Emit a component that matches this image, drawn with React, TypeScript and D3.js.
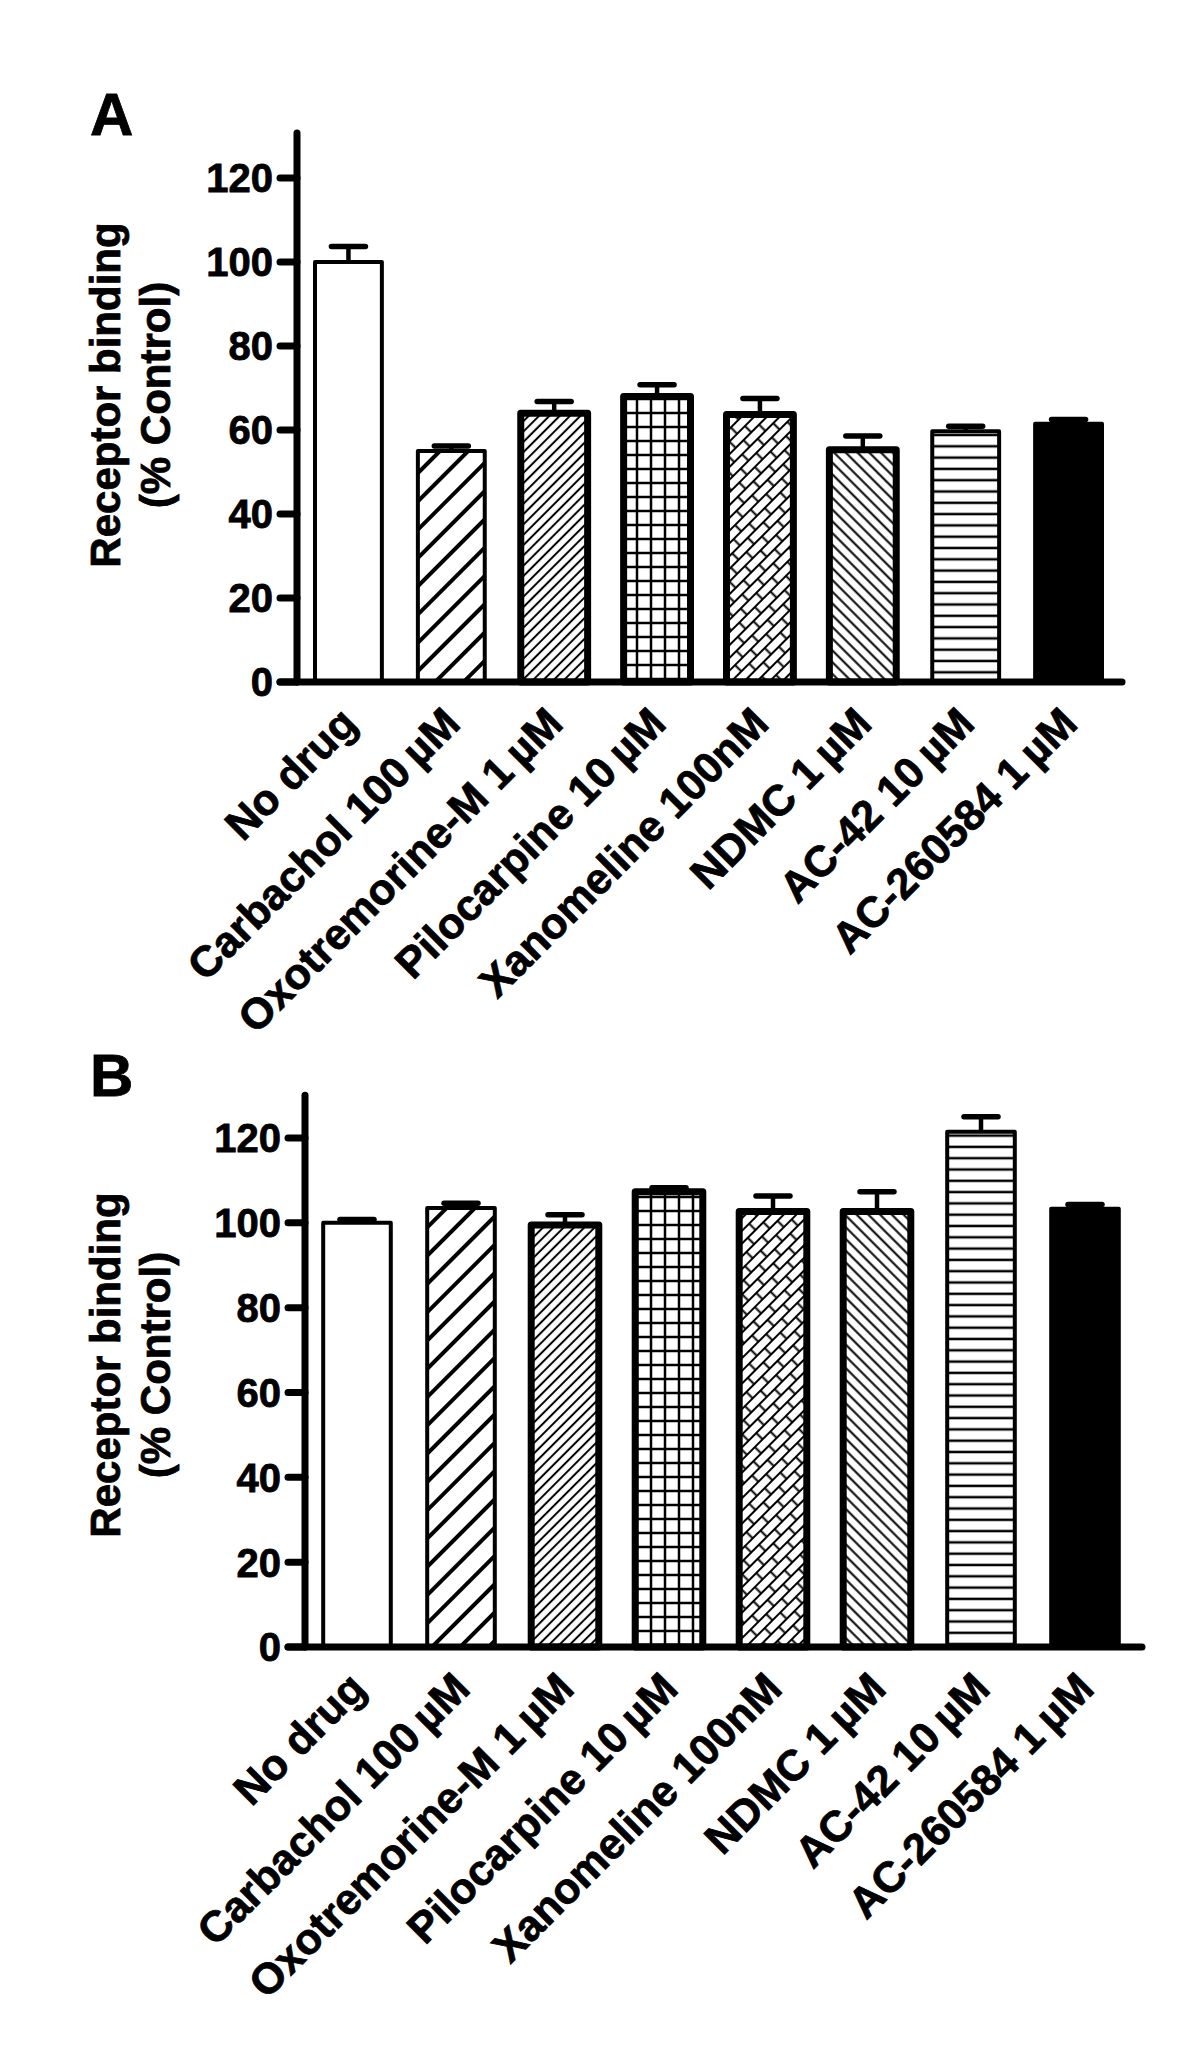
import React from "react";
import * as d3 from "d3";

const categories = [
  "No drug",
  "Carbachol 100\u2009µM",
  "Oxotremorine-M 1\u2009µM",
  "Pilocarpine 10\u2009µM",
  "Xanomeline 100nM",
  "NDMC 1\u2009µM",
  "AC-42 10\u2009µM",
  "AC-260584 1\u2009µM",
];
const valuesA = [100, 55, 64, 68, 63.7, 55.3, 59.7, 61.5];
const errorsA = [3.7, 1.2, 2.8, 2.8, 3.8, 3.3, 1.2, 1.0];
const valuesB = [100, 103.5, 99.5, 107.3, 102.7, 102.7, 121.5, 103.3];
const errorsB = [0.8, 1.1, 2.4, 1.0, 3.6, 4.6, 3.5, 1.0];
const yTicks = [0, 20, 40, 60, 80, 100, 120];
const fills = ["#fff", "url(#pWide)", "url(#pFineUp)", "url(#pGrid)", "url(#pBrick)", "url(#pFineDown)", "url(#pHoriz)", "#000"];
const thick = [false, false, true, true, true, true, false, false];

const FONT = "'Liberation Sans', Arial, Helvetica, sans-serif";

type PanelProps = {
  letter: string;
  values: number[];
  errors: number[];
  x0: number;
  x1: number;
  xAxisEnd: number;
  yZero: number;
  y120: number;
  axisTopVal: number;
  letterY: number;
  titleCenter: number;
};

function Panel(p: PanelProps) {
  const x = d3.scaleBand<string>().domain(categories).range([p.x0, p.x1]).paddingInner(0.35).paddingOuter(0.175);
  const y = d3.scaleLinear().domain([0, 120]).range([p.yZero, p.y120]);
  const tickLen = 17;
  const bw = x.bandwidth();
  return (
    <g>
      <text x={90} y={p.letterY} fontFamily={FONT} fontWeight="bold" fontSize={60} stroke="#000" strokeWidth={0.8}>{p.letter}</text>
      <g transform={`translate(0,${p.titleCenter}) rotate(-90)`} fontFamily={FONT} fontWeight="bold" fontSize={42} textAnchor="middle" stroke="#000" strokeWidth={0.8}>
        <text x={0} y={120}>Receptor binding</text>
        <text x={0} y={170}>(% Control)</text>
      </g>
      {categories.map((c, i) => {
        const v = p.values[i];
        const e = p.errors[i];
        const cx = (x(c) as number) + bw / 2;
        return (
          <g key={c}>
            <line x1={cx} x2={cx} y1={y(v)} y2={y(v + e)} stroke="#000" strokeWidth={4.5} />
            <line x1={cx - 17} x2={cx + 17} y1={y(v + e)} y2={y(v + e)} stroke="#000" strokeWidth={5.5} strokeLinecap="round" />
            <rect
              x={x(c)}
              y={y(v)}
              width={bw}
              height={y(0) - y(v)}
              fill={fills[i]}
              stroke="#000"
              strokeWidth={thick[i] ? 7 : 4}
              strokeLinejoin="round"
            />
          </g>
        );
      })}
      <line x1={p.x0} x2={p.x0} y1={y(p.axisTopVal)} y2={y(0)} stroke="#000" strokeWidth={7} strokeLinecap="round" />
      <line x1={p.x0 - tickLen} x2={p.xAxisEnd} y1={y(0)} y2={y(0)} stroke="#000" strokeWidth={7} strokeLinecap="round" />
      {yTicks.map((t) => (
        <g key={t}>
          <line x1={p.x0 - tickLen} x2={p.x0} y1={y(t)} y2={y(t)} stroke="#000" strokeWidth={7} strokeLinecap="round" />
          <text x={p.x0 - tickLen - 7} y={y(t)} dy="0.36em" textAnchor="end" fontFamily={FONT} fontWeight="bold" fontSize={40} stroke="#000" strokeWidth={0.8}>{t}</text>
        </g>
      ))}
      {categories.map((c) => {
        const cx = (x(c) as number) + bw / 2;
        return (
          <text
            key={c}
            transform={`translate(${cx + 11},${y(0) + 44}) rotate(-45)`}
            textAnchor="end"
            fontFamily={FONT}
            fontWeight="bold"
            fontSize={43}
            stroke="#000"
            strokeWidth={0.8}
          >
            {c}
          </text>
        );
      })}
    </g>
  );
}

export default function App() {
  return (
    <svg width={1200} height={2064} style={{ position: "absolute", left: 0, top: 0, background: "#fff" }}>
      <defs>
        <pattern id="pWide" patternUnits="userSpaceOnUse" width={20} height={20} patternTransform="rotate(-45)">
          <line x1={0} x2={20} y1={10} y2={10} stroke="#000" strokeWidth={4} />
        </pattern>
        <pattern id="pFineUp" patternUnits="userSpaceOnUse" width={10} height={7.3} patternTransform="rotate(-45)">
          <line x1={0} x2={10} y1={3.65} y2={3.65} stroke="#000" strokeWidth={2} />
        </pattern>
        <pattern id="pFineDown" patternUnits="userSpaceOnUse" width={10} height={8.3} patternTransform="rotate(45)">
          <line x1={0} x2={10} y1={4.15} y2={4.15} stroke="#000" strokeWidth={2} />
        </pattern>
        <pattern id="pHoriz" patternUnits="userSpaceOnUse" width={10} height={11.3}>
          <line x1={0} x2={10} y1={5.6} y2={5.6} stroke="#000" strokeWidth={2.5} />
        </pattern>
        <pattern id="pGrid" patternUnits="userSpaceOnUse" width={14} height={14}>
          <line x1={0} x2={14} y1={7} y2={7} stroke="#000" strokeWidth={2.5} />
          <line x1={7} x2={7} y1={0} y2={14} stroke="#000" strokeWidth={2.5} />
        </pattern>
        <pattern id="pBrick" patternUnits="userSpaceOnUse" width={22} height={18} patternTransform="rotate(-45)">
          <line x1={0} x2={22} y1={0} y2={0} stroke="#000" strokeWidth={2} />
          <line x1={0} x2={22} y1={9} y2={9} stroke="#000" strokeWidth={2} />
          <line x1={0} x2={22} y1={18} y2={18} stroke="#000" strokeWidth={2} />
          <line x1={5.5} x2={5.5} y1={0} y2={9} stroke="#000" strokeWidth={2} />
          <line x1={16.5} x2={16.5} y1={9} y2={18} stroke="#000" strokeWidth={2} />
        </pattern>
      </defs>
      <Panel letter="A" values={valuesA} errors={errorsA} x0={297} x1={1120} xAxisEnd={1122} yZero={682} y120={178} axisTopVal={130.7} letterY={135} titleCenter={395} />
      <Panel letter="B" values={valuesB} errors={errorsB} x0={305} x1={1137} xAxisEnd={1142} yZero={1647} y120={1138} axisTopVal={130.1} letterY={1096} titleCenter={1365} />
    </svg>
  );
}
